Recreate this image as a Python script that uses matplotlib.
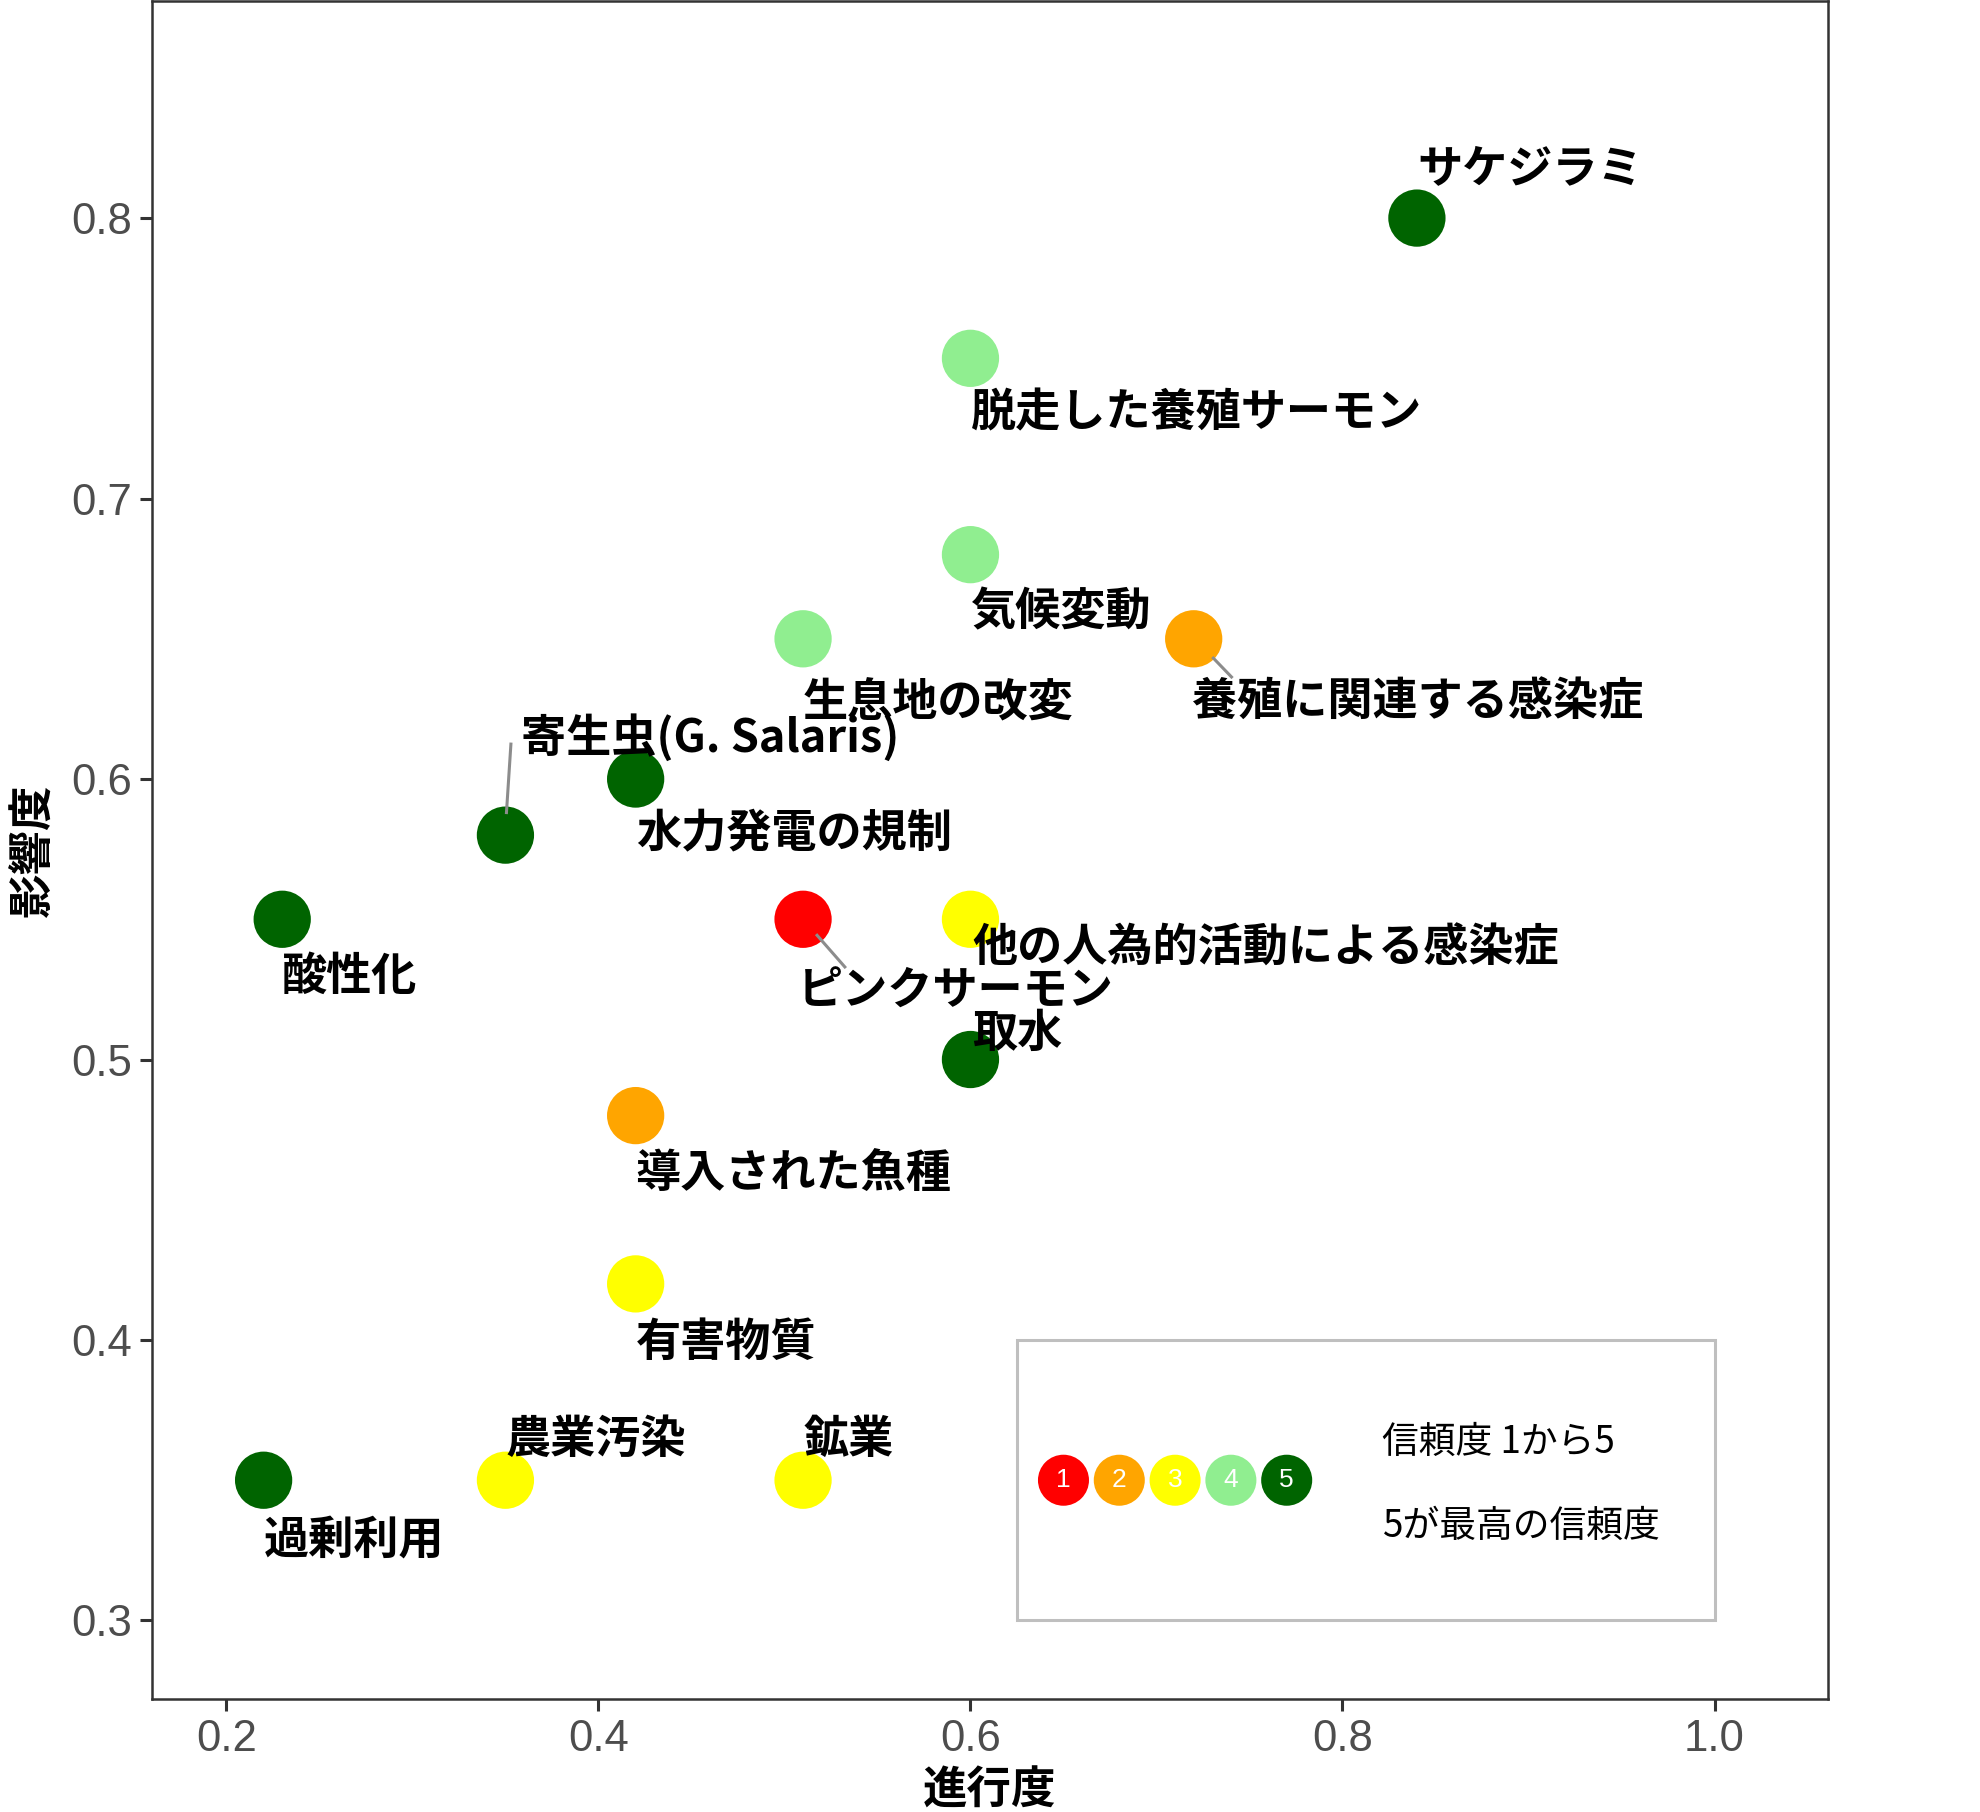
import matplotlib
matplotlib.use("Agg")
import matplotlib.pyplot as plt
from matplotlib.patches import Rectangle

# ---- data ----
labels = ["サケジラミ", "脱走した養殖サーモン", "気候変動", "養殖に関連する感染症",
          "生息地の改変", "寄生虫(G. Salaris)", "水力発電の規制", "酸性化",
          "ピンクサーモン", "他の人為的活動による感染症", "取水", "導入された魚種",
          "有害物質", "農業汚染", "鉱業", "過剰利用"]
progress = [0.84, 0.60, 0.60, 0.72, 0.51, 0.35, 0.42, 0.23,
            0.51, 0.60, 0.60, 0.42, 0.42, 0.35, 0.51, 0.22]
impact = [0.80, 0.75, 0.68, 0.65, 0.65, 0.58, 0.60, 0.55,
          0.55, 0.55, 0.50, 0.48, 0.42, 0.35, 0.35, 0.35]
confidence = [5, 4, 4, 2, 4, 5, 5, 5, 1, 3, 5, 2, 3, 3, 3, 5]

conf_levels = [1, 2, 3, 4, 5]
conf_colors = ["#FF0000", "#FFA500", "#FFFF00", "#90EE90", "#006400"]
legend_title1 = "信頼度 1から5"
legend_title2 = "5が最高の信頼度"
x_ticks = [0.2, 0.4, 0.6, 0.8, 1.0]
y_ticks = [0.3, 0.4, 0.5, 0.6, 0.7, 0.8]
x_title = "進行度"
y_title = "影響度"

# ---- layout (label offsets in data units, repel-like) ----
label_offsets = [(0.0, 0.0175), (0.0, -0.0195), (0.0, -0.0205), (-0.001, -0.023),
                 (0.0, -0.023), (0.0085, 0.0345), (0.0, -0.0195), (0.0, -0.0205),
                 (-0.003, -0.026), (0.001, -0.0105), (0.001, 0.009), (0.0, -0.021),
                 (0.0, -0.021), (0.0, 0.0145), (0.0, 0.0145), (0.0, -0.0215)]
# segments (start, end) relative to point, only for some labels
segments = {5: ((0.0005, 0.0075), (0.003, 0.033)),
            8: ((0.007, -0.0053), (0.023, -0.0174)),
            3: ((0.010, -0.0065), (0.0209, -0.014))}

color_map = dict(zip(conf_levels, conf_colors))

fig = plt.figure(figsize=(19.8, 18.12), dpi=100)
ax = fig.add_axes([152/1980, (1812-1699)/1812, (1828-152)/1980, (1699-1)/1812])
ax.set_xlim(0.16, 1.061)
ax.set_ylim(0.272, 0.8774)

JP = ["Noto Sans CJK JP", "DejaVu Sans"]

ax.scatter(progress, impact, s=1700, c=[color_map[c] for c in confidence],
           edgecolors="none", zorder=3)

for i, (lab, x, y) in enumerate(zip(labels, progress, impact)):
    dx, dy = label_offsets[i]
    if i in segments:
        (sx, sy), (ex, ey) = segments[i]
        ax.plot([x + sx, x + ex], [y + sy, y + ey], color="#8C8C8C", lw=2.2,
                solid_capstyle="butt", zorder=4)
    ax.text(x + dx, y + dy, lab, family=JP, fontsize=32.5, fontweight="bold",
            ha="left", va="center", color="black", zorder=5)

# legend box
ax.add_patch(Rectangle((0.625, 0.3), 1.0 - 0.625, 0.1, fill=False,
                       edgecolor="#BFBFBF", lw=2.2, zorder=2))
leg_x = [0.65, 0.68, 0.71, 0.74, 0.77]
leg_y = [0.35] * 5
ax.scatter(leg_x, leg_y, s=1350, c=conf_colors, edgecolors="none", zorder=3)
for lx, ly, lv in zip(leg_x, leg_y, conf_levels):
    ax.text(lx, ly, str(lv), family="Liberation Sans", fontsize=19,
            color="white", ha="center", va="center", zorder=5)
ax.text(0.8215, 0.3635, legend_title1, family=JP, fontsize=26.5,
        ha="left", va="center", color="black")
ax.text(0.8215, 0.3335, legend_title2, family=JP, fontsize=26.5,
        ha="left", va="center", color="black")

ax.set_xticks(x_ticks)
ax.set_yticks(y_ticks)
ax.set_xticklabels([f"{v:.1f}" for v in x_ticks])
ax.set_yticklabels([f"{v:.1f}" for v in y_ticks])
for t in ax.get_xticklabels() + ax.get_yticklabels():
    t.set_family("Liberation Sans")
    t.set_fontsize(31.5)
    t.set_color("#4D4D4D")
ax.tick_params(length=8.6, width=2.2, color="#333333", pad=6)
for sp in ax.spines.values():
    sp.set_color("#333333")
    sp.set_linewidth(1.8)

ax.set_xlabel(x_title, family=JP, fontsize=32, fontweight="bold", labelpad=5)
ax.set_ylabel(y_title, family=JP, fontsize=32, fontweight="bold", labelpad=10)

fig.savefig("out.png", dpi=100, facecolor="white")
